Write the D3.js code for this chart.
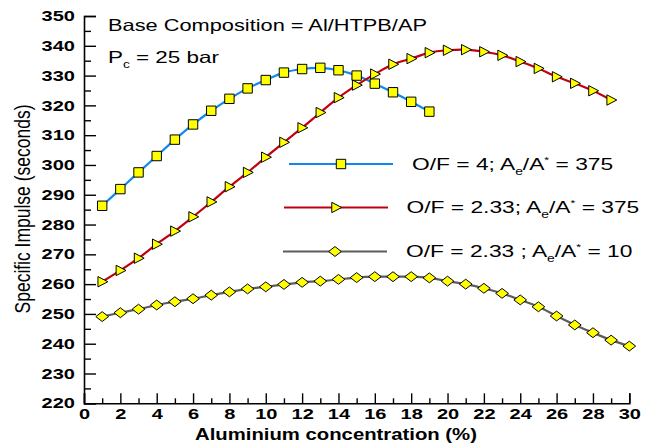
<!DOCTYPE html>
<html>
<head>
<meta charset="utf-8">
<script src="https://cdn.jsdelivr.net/npm/d3@7"></script>
<style>
  body { margin: 0; background: #fff; }
  text { font-family: "Liberation Sans", Arial, sans-serif; fill: #000; }
</style>
</head>
<body>
<svg width="658" height="444"></svg>
<script>
const svg = d3.select('svg');

// aluminium content (%) for each computed point
const aluminium = [1, 2, 3, 4, 5, 6, 7, 8, 9, 10, 11, 12, 13, 14, 15, 16, 17, 18, 19, 20,
  21, 22, 23, 24, 25, 26, 27, 28, 29, 30];

// specific impulse (s), O/F = 4, Ae/A* = 375  (1..19 %)
const ispOF4 = [286.3, 291.9, 297.5, 303.0, 308.5, 313.6, 318.2, 322.2, 325.7, 328.5,
  331.0, 332.2, 332.6, 331.8, 330.0, 327.3, 324.4, 321.2, 317.9];

// O/F = 2.33, Ae/A* = 375  (1..29 %)
const ispOF233High = [260.8, 264.6, 268.7, 273.4, 277.8, 282.6, 287.6, 292.7, 297.5, 302.6,
  307.6, 312.5, 317.6, 322.6, 326.8, 330.5, 333.8, 335.7, 337.7, 338.5,
  338.7, 338.0, 336.8, 334.7, 332.4, 329.6, 327.4, 324.9, 321.8];

// O/F = 2.33, Ae/A* = 10  (1..30 %)
const ispOF233Low = [249.1, 250.4, 251.6, 253.0, 254.1, 255.1, 256.3, 257.4, 258.4, 259.1,
  259.9, 260.6, 261.0, 261.6, 262.2, 262.5, 262.5, 262.5, 262.1, 261.0,
  260.0, 258.6, 256.9, 254.7, 252.4, 249.3, 246.3, 243.7, 241.2, 239.2];

const xMajorTicks = [0, 2, 4, 6, 8, 10, 12, 14, 16, 18, 20, 22, 24, 26, 28, 30];
const xMinorTicks = [1, 3, 5, 7, 9, 11, 13, 15, 17, 19, 21, 23, 25, 27, 29];
const yMajorTicks = [220, 230, 240, 250, 260, 270, 280, 290, 300, 310, 320, 330, 340, 350];
const yMinorTicks = [225, 235, 245, 255, 265, 275, 285, 295, 305, 315, 325, 335, 345];

const series = [
  { name: 'of4', values: ispOF4, color: '#1088f0', marker: 'square' },
  { name: 'of233high', values: ispOF233High, color: '#c00010', marker: 'triangle' },
  { name: 'of233low', values: ispOF233Low, color: '#5c5c5c', marker: 'diamond' },
];

const x = d3.scaleLinear().domain([0, 30]).range([84, 629.3]);
const y = d3.scaleLinear().domain([220, 350]).range([403.3, 16]);

// the source picture is stretched horizontally, so text is widened to match
const stretch = (sel, k) => sel.each(function () {
  const w = this.getComputedTextLength();
  this.setAttribute('textLength', w * k);
  this.setAttribute('lengthAdjust', 'spacingAndGlyphs');
});

const markerPath = (type, s) => {
  if (type === 'square') return `M${-s},${-s}H${s}V${s}H${-s}Z`;
  if (type === 'triangle') return `M${-s * 0.9},${-s * 1.1}L${s * 1.2},0L${-s * 0.9},${s * 1.1}Z`;
  return `M${-s * 1.35},0L0,${-s * 1.05}L${s * 1.35},0L0,${s * 1.05}Z`;
};

// axes
const xAxisG = svg.append('g').attr('transform', `translate(0,${y(220)})`);
xAxisG.call(d3.axisBottom(x).tickValues(xMajorTicks).tickSize(-10).tickPadding(5).tickFormat(d3.format('d')));
xAxisG.append('g').call(d3.axisBottom(x).tickValues(xMinorTicks).tickSize(-5).tickFormat(''))
  .select('.domain').remove();

const yAxisG = svg.append('g').attr('transform', `translate(${x(0)},0)`);
yAxisG.call(d3.axisLeft(y).tickValues(yMajorTicks).tickSize(-12).tickPadding(9).tickFormat(d3.format('d')));
yAxisG.append('g').call(d3.axisLeft(y).tickValues(yMinorTicks).tickSize(-7).tickFormat(''))
  .select('.domain').remove();

svg.selectAll('.domain').attr('stroke', '#000').attr('stroke-width', 1.6);
svg.selectAll('.tick line').attr('stroke', '#000').attr('stroke-width', 1.4);
svg.selectAll('.tick text').attr('font-size', 14.5).attr('font-weight', 'bold')
  .attr('font-family', '"Liberation Sans", Arial, sans-serif');
stretch(svg.selectAll('.tick text'), 1.38);

// curves
const line = d3.line()
  .x((d, i) => x(aluminium[i]))
  .y(d => y(d))
  .curve(d3.curveCatmullRom);

series.forEach(s => {
  svg.append('path')
    .attr('d', line(s.values))
    .attr('fill', 'none')
    .attr('stroke', s.color)
    .attr('stroke-width', 2.2);
});

series.forEach(s => {
  svg.append('g').selectAll('path')
    .data(s.values)
    .join('path')
    .attr('transform', (d, i) => `translate(${x(aluminium[i])},${y(d)})`)
    .attr('d', markerPath(s.marker, 4.7))
    .attr('fill', '#ffff00')
    .attr('stroke', '#000')
    .attr('stroke-width', 1);
});

// axis titles
const xTitle = svg.append('text')
  .attr('x', 336).attr('y', 440)
  .attr('text-anchor', 'middle')
  .attr('font-size', 16.5).attr('font-weight', 'bold')
  .text('Aluminium concentration (%)');
stretch(xTitle, 1.23);

svg.append('text')
  .attr('transform', 'translate(30,209) rotate(-90) scale(1,1.3)')
  .attr('text-anchor', 'middle')
  .attr('font-size', 17.5)
  .text('Specific Impulse (seconds)');

// annotations
const note1 = svg.append('text').attr('x', 108).attr('y', 31).attr('font-size', 16.5)
  .text('Base Composition = Al/HTPB/AP');
stretch(note1, 1.32);

const note2 = svg.append('text').attr('x', 108).attr('y', 63).attr('font-size', 16.5);
note2.append('tspan').text('P');
note2.append('tspan').attr('font-size', 10).attr('dy', 5).text('c');
note2.append('tspan').attr('dy', -5).text(' = 25 bar');
stretch(note2, 1.36);

// legend
const legendItems = [
  { s: series[0], of: '4; ', ratio: '375', x0: 289, x1: 393, ly: 164, tx: 412 },
  { s: series[1], of: '2.33; ', ratio: '375', x0: 284, x1: 388, ly: 207.5, tx: 406.5 },
  { s: series[2], of: '2.33 ; ', ratio: '10', x0: 283, x1: 387, ly: 251.5, tx: 406 },
];

legendItems.forEach(it => {
  svg.append('line')
    .attr('x1', it.x0).attr('x2', it.x1)
    .attr('y1', it.ly).attr('y2', it.ly)
    .attr('stroke', it.s.color).attr('stroke-width', 2.2);
  svg.append('path')
    .attr('transform', `translate(${(it.x0 + it.x1) / 2},${it.ly})`)
    .attr('d', markerPath(it.s.marker, 4.7))
    .attr('fill', '#ffff00').attr('stroke', '#000').attr('stroke-width', 1);
  const t = svg.append('text').attr('x', it.tx).attr('y', it.ly + 5.8).attr('font-size', 16.5);
  t.append('tspan').text('O/F = ' + it.of + 'A');
  t.append('tspan').attr('font-size', 10).attr('dy', 5).text('e');
  t.append('tspan').attr('dy', -5).text('/A');
  t.append('tspan').attr('font-size', 9).attr('dy', -7).text('*');
  t.append('tspan').attr('dy', 7).text(' = ' + it.ratio);
  stretch(t, 1.38);
});
</script>
</body>
</html>
